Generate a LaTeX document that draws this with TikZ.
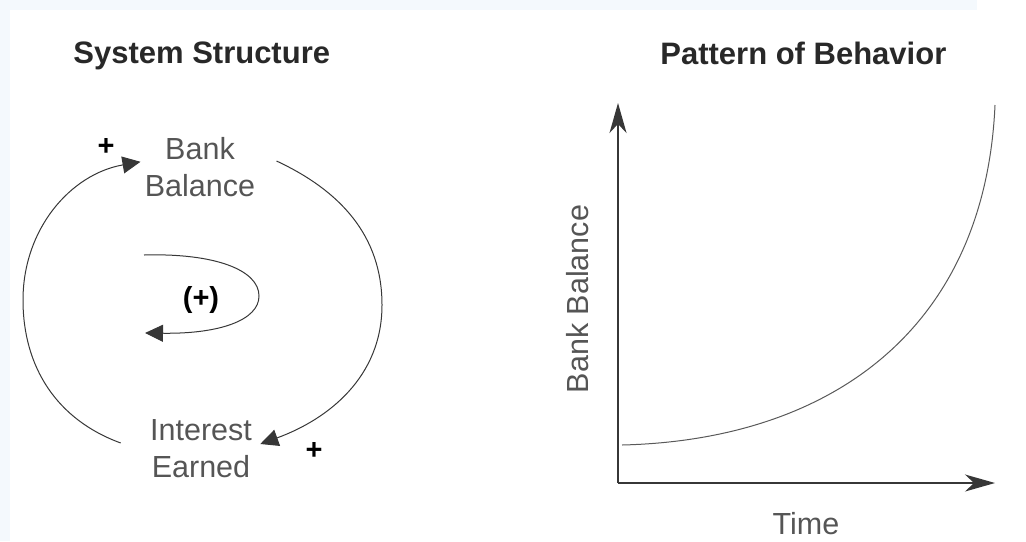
\documentclass[tikz,border=0pt]{standalone}
\usepackage{fontspec}
\setmainfont{Liberation Sans}
\usetikzlibrary{arrows.meta,calc}

\definecolor{labelgray}{RGB}{85,85,85}
\definecolor{titlegray}{RGB}{40,40,40}
\definecolor{linegray}{RGB}{55,55,55}
\definecolor{edgeblue}{RGB}{244,249,253}

\begin{document}
\begin{tikzpicture}[x=0.5pt, y=-0.5pt]
    \tikzset{
      title/.style={font=\fontsize{15.5}{18.5}\selectfont\bfseries, text=titlegray, inner sep=0pt},
      var/.style={font=\fontsize{15.25}{18.5}\selectfont, text=labelgray, align=center, inner xsep=2pt, inner ysep=0pt},
      sign/.style={font=\fontsize{14.5}{16}\selectfont\bfseries, inner sep=0pt},
      link/.style={draw=linegray, line width=0.5pt, -{Triangle[length=9pt, width=8.5pt]}},
      axis/.style={draw=linegray, line width=0.8pt, -{Stealth[length=15pt, width=8.5pt, inset=4.5pt]}},
      growth/.style={draw=black!65, line width=0.5pt},
    }
    \useasboundingbox (0,0) rectangle (1026,541);
    \fill[edgeblue] (0,0) rectangle (977,10);
    \fill[edgeblue] (0,0) rectangle (10,541);
    % ===== Panel 1: system structure =====
    \node[title, anchor=base west] (t1) at (73,63) {System Structure};
    \node[var] (bb) at (200,167) {Bank\\Balance};
    \node[var] (ie) at (201,449) {Interest\\Earned};
    \draw[link] ([shift={(-25,-6)}]ie.west) to[out=160, in=-90] (23,300)
      to[out=90, in=-170] (bb.175);
    \draw[link] ([shift={(17,-6)}]bb.east) to[out=-25, in=90] (382,305)
      to[out=-90, in=20] ([shift={(4,-5)}]ie.east);
    \node[sign] (p1) at (106,147) {+};
    \node[sign] (p2) at (314,451) {+};
    % inner loop marker
    \draw[link] (144,255) .. controls (215,253) and (259,270) .. (259,296)
      .. controls (259,320) and (220,334) .. (145,333);
    \node[sign] (loop) at (201,300) {(+)};
    % ===== Panel 2: pattern of behavior =====
    \node[title, anchor=base west] (t2) at (660,64) {Pattern of Behavior};
    \coordinate (o) at (618,483);
    \coordinate (ytop) at (618,103);
    \coordinate (xend) at (995,483);
    \draw[axis] (o) -- (ytop);
    \draw[axis] (o) -- (xend);
    \node[var, rotate=90, inner sep=0pt] (ylab) at (578,299) {Bank Balance};
    \node[var, inner sep=0pt] (xlab) at (806,524) {Time};
    \draw[growth] (622,445) .. controls (830,440) and (985,330) .. (995,105);
\end{tikzpicture}
\end{document}
